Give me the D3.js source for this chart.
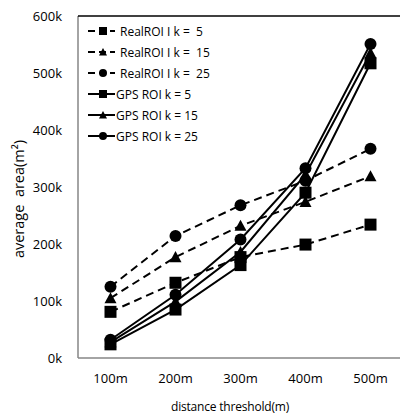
<!DOCTYPE html>
<html>
<head>
<meta charset="utf-8">
<script src="https://cdn.jsdelivr.net/npm/d3@7"></script>
<style>
  body { margin: 0; background: #fff; }
  text { font-family: "Open Sans", "Noto Sans", sans-serif; fill: #000; white-space: pre; }
</style>
</head>
<body>
<div id="chart"></div>
<script>
// Categories and series values
const categories = ["100m", "200m", "300m", "400m", "500m"];
const yTicks = [0, 100000, 200000, 300000, 400000, 500000, 600000];

const realK5  = [81000, 132000, 177000, 199000, 234000];
const realK15 = [105000, 177000, 232000, 274000, 319000];
const realK25 = [125000, 214000, 268000, 311000, 367000];
const gpsK5   = [24000, 85000, 163000, 290000, 517000];
const gpsK15  = [28000, 99000, 186000, 322000, 535000];
const gpsK25  = [32000, 111000, 208000, 333000, 551000];

const seriesNames = ["RealROI I k =  5", "RealROI I k =  15", "RealROI I k =  25",
                     "GPS ROI k = 5", "GPS ROI k = 15", "GPS ROI k = 25"];

const series = [
  {name: seriesNames[0], values: realK5,  shape: "square",   dashed: true},
  {name: seriesNames[1], values: realK15, shape: "triangle", dashed: true},
  {name: seriesNames[2], values: realK25, shape: "circle",   dashed: true},
  {name: seriesNames[3], values: gpsK5,   shape: "square",   dashed: false},
  {name: seriesNames[4], values: gpsK15,  shape: "triangle", dashed: false},
  {name: seriesNames[5], values: gpsK25,  shape: "circle",   dashed: false}
];

const margin = {top: 16, right: 0, bottom: 57, left: 78},
    width = 400 - margin.left - margin.right,
    height = 415 - margin.top - margin.bottom;

const svg = d3.select("#chart")
    .append("svg")
    .attr("width", 400)
    .attr("height", 415)
    .append("g")
    .attr("transform", `translate(${margin.left},${margin.top})`);

const x = d3.scaleBand()
    .domain(categories)
    .range([0, 325]);

const y = d3.scaleLinear()
    .domain([0, 600000])
    .range([height, 0]);

// Axes
const yAxis = svg.append("g")
    .call(d3.axisLeft(y).tickValues(yTicks).tickSize(0).tickPadding(16)
        .tickFormat(d => (d / 1000) + "k"));
yAxis.select(".domain").remove();
yAxis.selectAll("text").style("font-size", "13px")
    .style("font-family", "'Open Sans', sans-serif");

const xAxis = svg.append("g")
    .attr("transform", `translate(0,${height})`)
    .call(d3.axisBottom(x).tickSize(0).tickPadding(16));
xAxis.select(".domain").remove();
xAxis.selectAll("text").style("font-size", "13px")
    .style("font-family", "'Open Sans', sans-serif");

svg.append("line")
    .attr("x1", 0).attr("x2", width)
    .attr("y1", height).attr("y2", height)
    .attr("stroke", "#868686").attr("stroke-width", 1.5);
svg.append("line")
    .attr("x1", 0).attr("x2", 0)
    .attr("y1", 0).attr("y2", height)
    .attr("stroke", "#868686").attr("stroke-width", 1.5);
svg.append("line")
    .attr("x1", 0).attr("x2", width)
    .attr("y1", 0).attr("y2", 0)
    .attr("stroke", "#000").attr("stroke-width", 1.5);

// Axis titles
svg.append("text")
    .attr("x", 152)
    .attr("y", height + 53)
    .attr("text-anchor", "middle")
    .style("font-size", "12px")
    .style("letter-spacing", "-0.2px")
    .text("distance threshold(m)");

svg.append("text")
    .attr("transform", "rotate(-90)")
    .attr("x", -183)
    .attr("y", -54)
    .attr("text-anchor", "middle")
    .style("font-size", "14.5px")
    .text("average  area(m²)");

// Markers
function drawMarker(g, shape, cx, cy, r) {
  if (shape === "square") {
    g.append("rect").attr("x", cx - r).attr("y", cy - r)
      .attr("width", 2 * r).attr("height", 2 * r).attr("fill", "#000");
  } else if (shape === "circle") {
    g.append("circle").attr("cx", cx).attr("cy", cy).attr("r", r).attr("fill", "#000");
  } else {
    g.append("path")
      .attr("d", `M${cx},${cy - r}L${cx + r},${cy + r * 0.85}L${cx - r},${cy + r * 0.85}Z`)
      .attr("fill", "#000");
  }
}

const line = d3.line()
    .x((d, i) => x(categories[i]) + x.bandwidth() / 2)
    .y(d => y(d));

series.forEach(s => {
  svg.append("path")
    .datum(s.values)
    .attr("d", line)
    .attr("fill", "none")
    .attr("stroke", "#000")
    .attr("stroke-width", 2)
    .attr("stroke-dasharray", s.dashed ? "8,5" : null);
});

series.forEach(s => {
  const g = svg.append("g");
  s.values.forEach((v, i) => {
    drawMarker(g, s.shape, x(categories[i]) + x.bandwidth() / 2, y(v), 6);
  });
});

// Legend
const legend = svg.append("g");
series.forEach((s, i) => {
  const ly = 15 + i * 21;
  const g = legend.append("g");
  if (s.dashed) {
    g.append("line").attr("x1", 10).attr("x2", 37).attr("y1", ly).attr("y2", ly)
      .attr("stroke", "#000").attr("stroke-width", 2).attr("stroke-dasharray", "7,4");
    drawMarker(g, s.shape, 25, ly, 4);
    g.append("text").attr("x", 42).attr("y", ly + 4.5)
      .style("font-size", "12px").text(s.name);
  } else {
    g.append("line").attr("x1", 10).attr("x2", 37).attr("y1", ly).attr("y2", ly)
      .attr("stroke", "#000").attr("stroke-width", 2);
    drawMarker(g, s.shape, 25, ly, 4);
    g.append("text").attr("x", 38).attr("y", ly + 4.5)
      .style("font-size", "12px").text(s.name);
  }
});
</script>
</body>
</html>
